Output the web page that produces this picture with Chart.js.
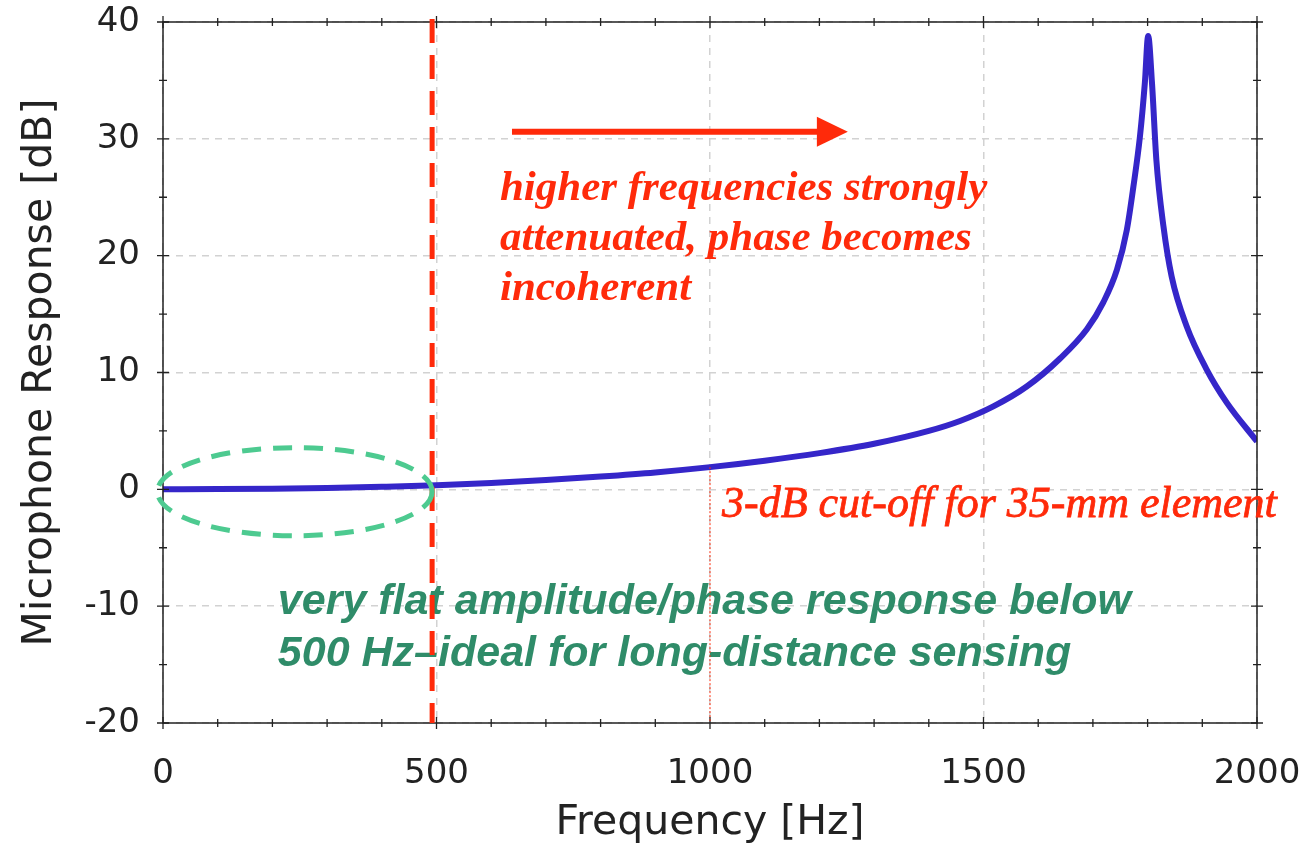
<!DOCTYPE html>
<html>
<head>
<meta charset="utf-8">
<script src="https://cdn.jsdelivr.net/npm/chart.js@4.4.1/dist/chart.umd.min.js"></script>
<style>
  html, body { margin: 0; padding: 0; background: #fff; }
  canvas { display: block; }
</style>
</head>
<body>
<canvas id="grafico" width="1306" height="844"></canvas>
<script>
// frequenze [Hz] e risposta del microfono [dB]
const frequenze = [0, 100, 200, 300, 400, 500, 600, 700, 800, 900, 1000, 1100, 1200, 1300, 1400, 1457, 1518, 1579, 1640, 1689, 1719, 1744, 1762, 1774, 1786, 1795, 1801, 1808, 1816, 1829, 1844, 1871, 1908, 1945, 2000];
const risposta = [0, 0.02, 0.06, 0.12, 0.22, 0.35, 0.55, 0.8, 1.1, 1.45, 1.9, 2.45, 3.1, 3.9, 5.0, 5.85, 7.1, 8.8, 11.2, 13.7, 16.0, 18.8, 22.2, 25.9, 30.2, 34.8, 38.8, 34.8, 28.2, 22.5, 18.2, 14.0, 10.25, 7.4, 4.1];

const tickX = [0, 500, 1000, 1500, 2000];
const tickY = [-20, -10, 0, 10, 20, 30, 40];

// annotazioni (in unita' dei dati)
const taglioHz = 492;          // linea rossa tratteggiata
const taglio3dB = 1000;        // linea punteggiata 3 dB
const testoRosso = ['higher frequencies strongly', 'attenuated, phase becomes', 'incoherent'];
const testoVerde = ['very flat amplitude/phase response below', '500 Hz\u2013ideal for long-distance sensing'];
const testoTaglio = '3-dB cut-off for 35-mm element';

const punti = frequenze.map((f, i) => ({ x: f, y: risposta[i] }));

const ROSSO = '#ff2a0a';
const VERDE = '#2f8c69';

const annotazioni = {
    id: 'annotazioni',
    afterDatasetsDraw(chart) {
        const { ctx, chartArea: a, scales: { x, y } } = chart;
        ctx.save();

        // cornice
        ctx.strokeStyle = '#222';
        ctx.lineWidth = 1.5;
        ctx.setLineDash([]);
        ctx.strokeRect(a.left, a.top, a.right - a.left, a.bottom - a.top);

        // tacche su tutti i lati
        ctx.lineWidth = 1.3;
        for (let f = 0; f <= 2000; f += 100) {
            const px = x.getPixelForValue(f);
            const l = f % 500 === 0 ? 6 : 4;
            ctx.beginPath();
            ctx.moveTo(px, a.bottom - l); ctx.lineTo(px, a.bottom + l);
            ctx.moveTo(px, a.top - l); ctx.lineTo(px, a.top + l);
            ctx.stroke();
        }
        for (let v = -20; v <= 40; v += 5) {
            const py = y.getPixelForValue(v);
            const l = v % 10 === 0 ? 6 : 4;
            ctx.beginPath();
            ctx.moveTo(a.left - l, py); ctx.lineTo(a.left + l, py);
            ctx.moveTo(a.right - l, py); ctx.lineTo(a.right + l, py);
            ctx.stroke();
        }

        // testo verde
        ctx.fillStyle = VERDE;
        ctx.font = 'italic bold 43px "Liberation Sans", Arial, sans-serif';
        ctx.textAlign = 'left';
        ctx.textBaseline = 'alphabetic';
        testoVerde.forEach((t, i) => {
            ctx.fillText(t, x.getPixelForValue(210), y.getPixelForValue(-10.7) + i * 52);
        });

        // linea rossa tratteggiata
        ctx.strokeStyle = ROSSO;
        ctx.lineWidth = 5;
        ctx.setLineDash([24, 12]);
        ctx.beginPath();
        ctx.moveTo(x.getPixelForValue(taglioHz), a.top - 3);
        ctx.lineTo(x.getPixelForValue(taglioHz), a.bottom);
        ctx.stroke();

        // linea punteggiata a 1000 Hz
        const v1000 = risposta[frequenze.indexOf(taglio3dB)];
        ctx.lineWidth = 1;
        ctx.setLineDash([2, 2]);
        ctx.beginPath();
        ctx.moveTo(x.getPixelForValue(taglio3dB), y.getPixelForValue(v1000));
        ctx.lineTo(x.getPixelForValue(taglio3dB), a.bottom);
        ctx.stroke();

        // ellisse verde
        ctx.strokeStyle = '#4dca90';
        ctx.lineWidth = 5;
        ctx.setLineDash([19, 12]);
        const cx = x.getPixelForValue(241), cy = y.getPixelForValue(-0.2);
        const rx = x.getPixelForValue(251) - x.getPixelForValue(0);
        const ry = y.getPixelForValue(0) - y.getPixelForValue(3.77);
        ctx.beginPath();
        ctx.ellipse(cx, cy, rx, ry, 0, 0, Math.PI * 2);
        ctx.stroke();

        // freccia
        ctx.setLineDash([]);
        const ay = y.getPixelForValue(30.6);
        const ax0 = x.getPixelForValue(638), ax1 = x.getPixelForValue(1252);
        ctx.strokeStyle = ROSSO;
        ctx.fillStyle = ROSSO;
        ctx.lineWidth = 6;
        ctx.beginPath();
        ctx.moveTo(ax0, ay); ctx.lineTo(ax1 - 20, ay);
        ctx.stroke();
        ctx.beginPath();
        ctx.moveTo(ax1, ay);
        ctx.lineTo(ax1 - 31, ay - 15);
        ctx.lineTo(ax1 - 31, ay + 15);
        ctx.closePath();
        ctx.fill();

        // testo rosso
        ctx.font = 'italic bold 43px "Liberation Serif", "Times New Roman", serif';
        testoRosso.forEach((t, i) => {
            ctx.fillText(t, x.getPixelForValue(616), y.getPixelForValue(24.8) + i * 50);
        });
        ctx.font = 'italic 44px "Liberation Serif", "Times New Roman", serif';
        ctx.lineWidth = 0.8;
        const tx = x.getPixelForValue(1022), ty = y.getPixelForValue(-2.34);
        ctx.fillText(testoTaglio, tx, ty);
        ctx.strokeText(testoTaglio, tx, ty);

        ctx.restore();
    }
};

new Chart(document.getElementById('grafico'), {
    type: 'line',
    data: {
        datasets: [{
            data: punti,
            borderColor: '#3526c9',
            borderWidth: 6,
            pointRadius: 0,
            cubicInterpolationMode: 'monotone',
            fill: false
        }]
    },
    options: {
        responsive: false,
        animation: false,
        devicePixelRatio: 1,
        layout: { padding: { top: 22, right: 49, left: 0, bottom: 0 } },
        plugins: { legend: { display: false }, tooltip: { enabled: false } },
        scales: {
            x: {
                type: 'linear',
                min: 0,
                max: 2000,
                afterBuildTicks(scale) { scale.ticks = tickX.map(v => ({ value: v })); },
                ticks: {
                    font: { family: 'DejaVu Sans', size: 34 }, color: '#222', padding: 31, maxRotation: 0,
                    callback: v => String(v)
                },
                grid: { color: '#d2d2d2', lineWidth: 1.5, drawTicks: false },
                border: { display: false, dash: [7, 6] },
                title: {
                    display: true, text: 'Frequency [Hz]', color: '#222',
                    font: { family: 'DejaVu Sans', size: 41, lineHeight: 1 },
                    padding: { top: 0, bottom: 0 }
                },
                afterFit(scale) {
                    scale.height = 121;
                    scale.paddingLeft = 0;
                    scale.paddingRight = 0;
                }
            },
            y: {
                min: -20,
                max: 40,
                afterBuildTicks(scale) { scale.ticks = tickY.map(v => ({ value: v })); },
                ticks: {
                    font: { family: 'DejaVu Sans', size: 34 }, color: '#222', padding: 23,
                    callback: v => String(v)
                },
                grid: { color: '#d2d2d2', lineWidth: 1.5, drawTicks: false },
                border: { display: false, dash: [7, 6] },
                title: {
                    display: true, text: 'Microphone Response [dB]', color: '#222',
                    font: { family: 'DejaVu Sans', size: 41, lineHeight: 1 },
                    padding: { top: 20, bottom: 0 }
                },
                afterFit(scale) {
                    scale.width = 163;
                    scale.paddingTop = 0;
                    scale.paddingBottom = 0;
                }
            }
        }
    },
    plugins: [annotazioni]
});
</script>
</body>
</html>
